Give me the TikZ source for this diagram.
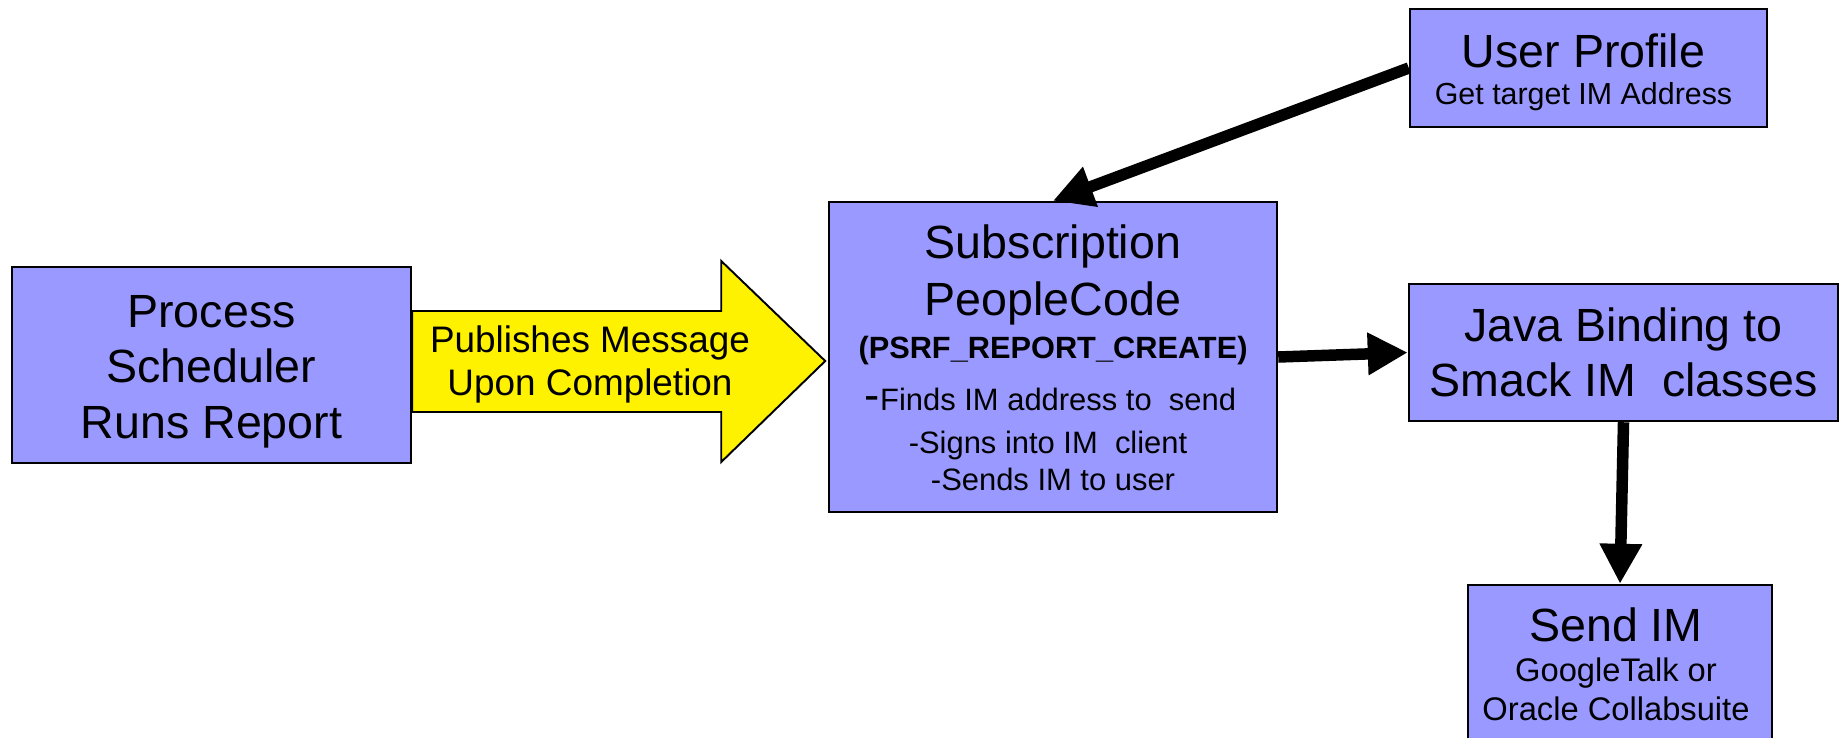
\documentclass[tikz,border=0pt]{standalone}
\usepackage{fontspec}
\setmainfont{Liberation Sans}
\usetikzlibrary{calc,arrows.meta,positioning}

\definecolor{boxblue}{RGB}{153,153,255}

\begin{document}
\begin{tikzpicture}[
    imbox/.style={draw=black, line width=1.4pt, fill=boxblue, inner sep=0pt, align=center},
    bigtext/.style={font=\fontsize{26.5}{31.5}\selectfont},
    smalltext/.style={font=\fontsize{17.6}{21}\selectfont},
    flow/.style={line width=0.23cm, -{Triangle[length=0.8cm, width=0.8cm]}},
    pubarrow/.style={draw=black, line width=1.1pt, fill=yellow, line join=miter}
  ]

% page
\clip (0,0) rectangle (36.9,-14.74);

% boxes
\node[imbox, minimum width=7.98cm, minimum height=3.92cm] (proc) at (4.23,-7.30) {};
\node[imbox, minimum width=8.96cm, minimum height=6.2cm] (sub) at (21.06,-7.14) {};
\node[imbox, minimum width=7.14cm, minimum height=2.36cm] (user) at (31.77,-1.36) {};
\node[imbox, font=\fontsize{26.5}{31.4}\selectfont, minimum width=8.58cm, minimum height=2.74cm] (java) at (32.47,-7.05) {Java Binding to\\Smack IM\ \ classes};
\node[imbox, minimum width=6.08cm, minimum height=3.1cm] (send) at (32.40,-13.25) {};

% process text
\node[bigtext, align=center] (proctxt) at ($(proc.center)+(0,-0.13)$) {Process\\Scheduler\\Runs Report};

% published message arrow
\draw[pubarrow] ($(proc.east)+(0,1.08)$) -- ++(6.18,0) -- ++(0,1) -- ++(2.08,-2) -- ++(-2.08,-2.02) -- ++(0,1) -- ++(-6.18,0) -- cycle;
\node[font=\fontsize{21}{24.5}\selectfont, align=center] (pubtxt) at (11.8,-7.28) {Publishes Message\\Upon Completion};

% subscription text
\node[bigtext, anchor=base] (subtitle) at ($(sub.north)+(0,-1.15)$) {Subscription};
\node[bigtext, anchor=base] (subpc) at ($(sub.north)+(0,-2.29)$) {PeopleCode};
\node[font=\fontsize{17.5}{21}\selectfont\bfseries, anchor=base] (subcode) at ($(sub.north)+(0,-3.15)$) {(PSRF\_REPORT\_CREATE)};
\node[smalltext, anchor=base] (subfind) at ($(sub.north)+(-0.05,-4.19)$) {{\fontsize{26}{30}\selectfont -}Finds IM address to\ \ send};
\node[smalltext, anchor=base] (subsign) at ($(sub.north)+(-0.1,-5.06)$) {-Signs into IM\ \ client};
\node[smalltext, anchor=base] (subsend) at ($(sub.north)+(0,-5.8)$) {-Sends IM to user};

% user profile text
\node[bigtext, anchor=base] (usertitle) at ($(user.north)+(-0.1,-1.19)$) {User Profile};
\node[font=\fontsize{17.3}{20}\selectfont, anchor=base] (usersub) at ($(user.north)+(-0.1,-1.94)$) {Get target IM Address};

% send text
\node[bigtext, anchor=base] (sendtitle) at ($(send.north)+(-0.08,-1.16)$) {Send IM};
\node[font=\fontsize{18.6}{21}\selectfont, anchor=base] (sendgt) at ($(send.north)+(-0.08,-1.96)$) {GoogleTalk or};
\node[font=\fontsize{18.6}{21}\selectfont, anchor=base] (sendoc) at ($(send.north)+(-0.08,-2.74)$) {Oracle Collabsuite};

% connectors
\draw[flow] (user.west) -- (sub.north);
\draw[flow] (sub.east) -- (java.west);
\draw[flow] (java.south) -- (send.north);

\end{tikzpicture}
\end{document}
